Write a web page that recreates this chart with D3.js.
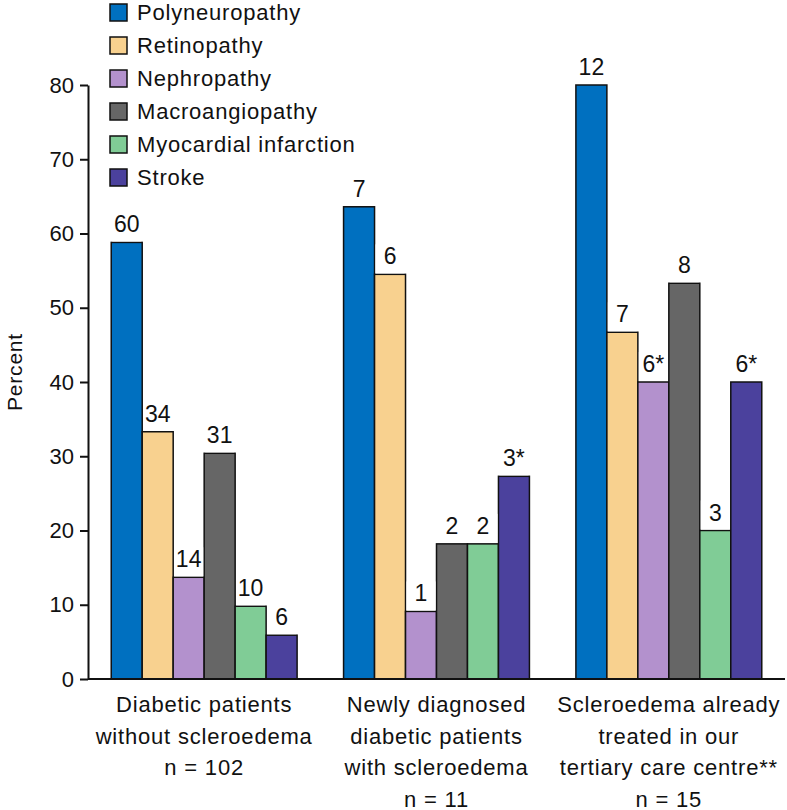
<!DOCTYPE html>
<html>
<head>
<meta charset="utf-8">
<script src="https://d3js.org/d3.v7.min.js"></script>
<style>
  body { margin: 0; background: #fff; }
  svg text { font-family: "Liberation Sans", Arial, sans-serif; fill: #111; }
</style>
</head>
<body>
<div id="chart"></div>
<script>
// data
var groups = ["g1", "g2", "g3"];
var groupLabels = [
  ["Diabetic patients", "without scleroedema", "n = 102"],
  ["Newly diagnosed", "diabetic patients", "with scleroedema", "n = 11"],
  ["Scleroedema already", "treated in our", "tertiary care centre**", "n = 15"]
];
var seriesNames = ["Polyneuropathy", "Retinopathy", "Nephropathy", "Macroangiopathy", "Myocardial infarction", "Stroke"];
var seriesColors = ["#0070c0", "#f8d18f", "#b391cd", "#666666", "#80cc96", "#4b419d"];
var percentValues = [
  [58.8, 33.3, 13.7, 30.4, 9.8, 5.9],
  [63.6, 54.5, 9.1, 18.2, 18.2, 27.3],
  [80.0, 46.7, 40.0, 53.3, 20.0, 40.0]
];
var countLabels = [
  ["60", "34", "14", "31", "10", "6"],
  ["7", "6", "1", "2", "2", "3*"],
  ["12", "7", "6*", "8", "3", "6*"]
];
var yTicks = [0, 10, 20, 30, 40, 50, 60, 70, 80];

var W = 787, H = 810;
var svg = d3.select("#chart").append("svg")
  .attr("width", W).attr("height", H);

var x0 = d3.scaleBand().domain(groups).range([88, 785])
  .paddingInner(0.2).paddingOuter(0.1);
var x1 = d3.scaleBand().domain(seriesNames).range([0, x0.bandwidth()]);
var y = d3.scaleLinear().domain([0, 80]).range([679, 85]);

// bars
var gGroups = svg.selectAll(".grp").data(groups).enter().append("g")
  .attr("class", "grp")
  .attr("transform", function (d) { return "translate(" + x0(d) + ",0)"; });

function rows(d, i) {
  return seriesNames.map(function (s, j) {
    return { s: s, v: percentValues[i][j], c: seriesColors[j], lab: countLabels[i][j] };
  });
}

gGroups.selectAll("rect.bar")
  .data(rows)
  .enter().append("rect")
  .attr("class", "bar")
  .attr("x", function (d) { return x1(d.s); })
  .attr("width", x1.bandwidth())
  .attr("y", function (d) { return y(d.v); })
  .attr("height", function (d) { return y(0) - y(d.v); })
  .attr("fill", function (d) { return d.c; })
  .attr("stroke", "#111")
  .attr("stroke-width", 1.5);

// value labels with white backing
var labs = gGroups.selectAll("g.lab")
  .data(rows)
  .enter().append("g").attr("class", "lab");

labs.append("rect")
  .attr("x", function (d) { return x1(d.s) + 1; })
  .attr("width", x1.bandwidth() - 2)
  .attr("y", function (d) { return y(d.v) - 30; })
  .attr("height", 29)
  .attr("fill", "#fff");

labs.append("text")
  .attr("x", function (d) { return x1(d.s) + x1.bandwidth() / 2; })
  .attr("y", function (d) { return y(d.v) - 10; })
  .attr("text-anchor", "middle")
  .style("font-size", "23px")
  .text(function (d) { return d.lab; });

// y axis
var yAxis = svg.append("g")
  .attr("transform", "translate(88,0)")
  .call(d3.axisLeft(y).tickValues(yTicks).tickSize(8).tickSizeOuter(0).tickPadding(6));
yAxis.select(".domain").attr("stroke", "#111").attr("stroke-width", 2);
yAxis.selectAll(".tick line").attr("stroke", "#111").attr("stroke-width", 2);
yAxis.selectAll(".tick text").style("font-size", "22px")
  .style("font-family", "Liberation Sans, Arial, sans-serif").attr("fill", "#111");

// x axis line
svg.append("line")
  .attr("x1", 88).attr("x2", 785)
  .attr("y1", y(0)).attr("y2", y(0))
  .attr("stroke", "#111").attr("stroke-width", 2);

// category labels
groups.forEach(function (g, i) {
  var t = svg.append("text")
    .attr("text-anchor", "middle")
    .style("font-size", "22px")
    .style("letter-spacing", "0.8px");
  groupLabels[i].forEach(function (line, k) {
    t.append("tspan")
      .attr("x", x0(g) + x0.bandwidth() / 2)
      .attr("y", 712 + k * 31.5)
      .text(line);
  });
});

// y title
svg.append("text")
  .attr("transform", "translate(22,372) rotate(-90)")
  .attr("text-anchor", "middle")
  .style("font-size", "21px")
  .style("letter-spacing", "0.8px")
  .text("Percent");

// legend
var leg = svg.selectAll(".leg").data(seriesNames).enter().append("g")
  .attr("class", "leg")
  .attr("transform", function (d, i) { return "translate(110," + (4 + i * 33) + ")"; });
leg.append("rect")
  .attr("width", 17).attr("height", 17)
  .attr("fill", function (d, i) { return seriesColors[i]; })
  .attr("stroke", "#111").attr("stroke-width", 1.5);
leg.append("text")
  .attr("x", 27).attr("y", 16)
  .style("font-size", "22px")
  .style("letter-spacing", "0.8px")
  .text(function (d) { return d; });
</script>
</body>
</html>
